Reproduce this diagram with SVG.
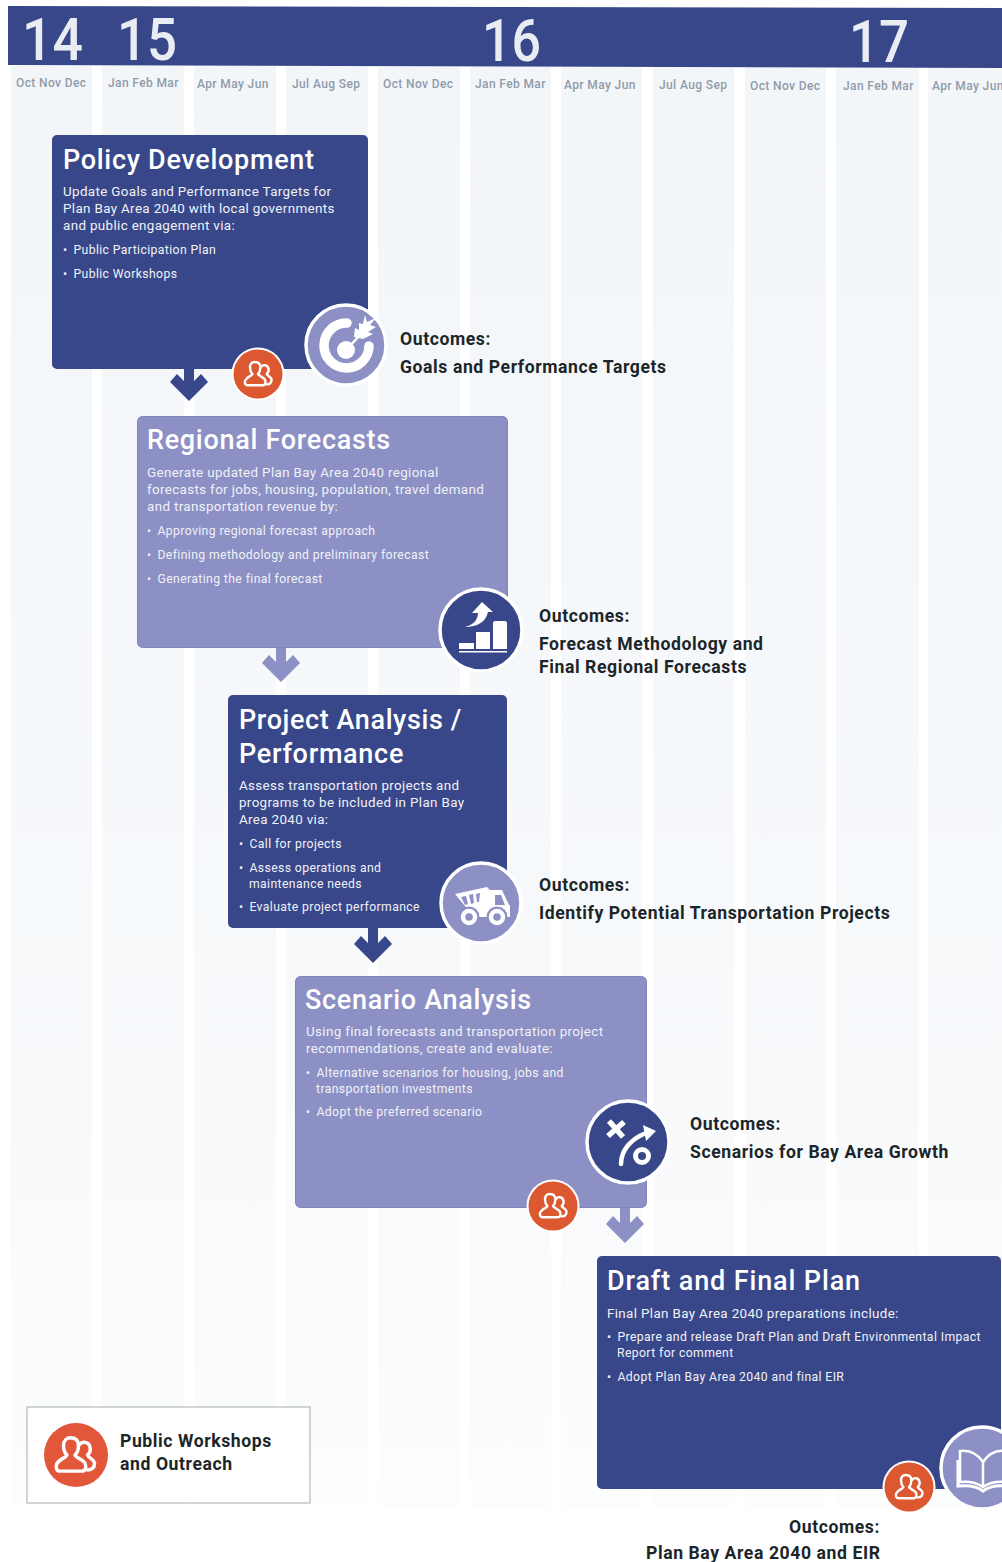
<svg xmlns="http://www.w3.org/2000/svg" width="1002" height="1562" viewBox="0 0 1002 1562">
<style>
text{font-family:"Roboto","Liberation Sans",sans-serif}
.yr{font-size:59px;font-weight:500;fill:#e9ecf2}
.mo{font-size:12px;fill:#8f9bab;letter-spacing:.38px;font-weight:500}
.strip{fill:url(#fade)}
.dark{fill:#384789}
.light{fill:#8c90c4}
.boxl{fill:#8c90c4;stroke:#7f84ba;stroke-width:1}
.title{font-size:27px;font-weight:500;fill:#fff;letter-spacing:.7px}
.body{font-size:13.4px;fill:#f1f2f8;letter-spacing:.35px}
.li{font-size:12.2px;fill:#f1f2f8;letter-spacing:.4px}
.out{font-size:17.6px;font-weight:700;fill:#1c2528;letter-spacing:.58px}
.ring{stroke:#fff;stroke-width:3.5}
.ic{fill:none;stroke:#fff}
.icf{fill:#fff}
</style>
<defs>
<linearGradient id="fade" gradientUnits="userSpaceOnUse" x1="0" y1="66" x2="0" y2="1507">
<stop offset="0" stop-color="#f3f6f9"/><stop offset=".7" stop-color="#f7f9fb"/><stop offset="1" stop-color="#fcfdfd"/>
</linearGradient>
<g id="people">
<path d="M-13 14 C-16 14 -17 11 -16 8 C-14 3 -8 3 -7 0 C-9 -2 -10 -5 -10 -8 C-10 -13 -7 -15 -4 -15 C0 -15 3 -13 3 -8 C3 -5 2 -2 0 0 C1 3 8 4 9 8 C10 11 9 14 6 14 Z" fill="none" stroke="#fff" stroke-width="3" stroke-linejoin="round"/>
<path d="M4 -9 C6 -12 12 -12 13 -7 C14 -4 13 -2 11 0 C12 3 16 3 17 7 C17 11 15 13 11 13" fill="none" stroke="#fff" stroke-width="3" stroke-linecap="round"/>
</g>
<g id="badge"><circle r="26.500" fill="#fff"/><circle r="24.500" fill="#dc5830"/><use href="#people" transform="scale(.8)"/></g>
<path id="arrD" d="M-5 0H5V16L12 9L19 17L0 36L-19 17L-12 9L-5 16Z"/>
</defs>
<rect width="1002" height="1562" fill="#fff"/>
<g id="columns">
<rect class="strip" x="11" y="66" width="81" height="1440"/>
<rect class="strip" x="102" y="66" width="82" height="1440"/>
<rect class="strip" x="194" y="66" width="82" height="1440"/>
<rect class="strip" x="286" y="66" width="82" height="1440"/>
<rect class="strip" x="378" y="67" width="82" height="1440"/>
<rect class="strip" x="470" y="67" width="81" height="1440"/>
<rect class="strip" x="561" y="67" width="81" height="1440"/>
<rect class="strip" x="653" y="67" width="81" height="1440"/>
<rect class="strip" x="745" y="67" width="81" height="1440"/>
<rect class="strip" x="836" y="67" width="83" height="1440"/>
<rect class="strip" x="928" y="67" width="74" height="1440"/>
</g>
<g id="timeline">
<path class="dark" d="M8 6L1002 8V68L8 65Z"/>
<text class="yr" x="22" y="60" textLength="61" lengthAdjust="spacingAndGlyphs">14</text>
<text class="yr" x="117" y="60" textLength="60" lengthAdjust="spacingAndGlyphs">15</text>
<text class="yr" x="482" y="61" textLength="59" lengthAdjust="spacingAndGlyphs">16</text>
<text class="yr" x="849" y="62" textLength="60" lengthAdjust="spacingAndGlyphs">17</text>
<text class="mo" x="16" y="87">Oct Nov Dec</text>
<text class="mo" x="108" y="87">Jan Feb Mar</text>
<text class="mo" x="197" y="88">Apr May Jun</text>
<text class="mo" x="292" y="88">Jul Aug Sep</text>
<text class="mo" x="383" y="88">Oct Nov Dec</text>
<text class="mo" x="475" y="88">Jan Feb Mar</text>
<text class="mo" x="564" y="89">Apr May Jun</text>
<text class="mo" x="659" y="89">Jul Aug Sep</text>
<text class="mo" x="750" y="90">Oct Nov Dec</text>
<text class="mo" x="843" y="90">Jan Feb Mar</text>
<text class="mo" x="932" y="90">Apr May Jun</text>
</g>
<g id="connectors">
<use href="#arrD" class="dark" x="189" y="365"/>
<use href="#arrD" class="light" x="281" y="646"/>
<use href="#arrD" class="dark" x="373" y="927"/>
<use href="#arrD" class="light" x="625" y="1207"/>
</g>
<g id="policy-development">
<rect class="dark" x="52" y="135" width="316" height="234" rx="5"/>
<text class="title" x="63" y="169">Policy Development</text>
<text class="body" x="63" y="196">Update Goals and Performance Targets for</text>
<text class="body" x="63" y="213">Plan Bay Area 2040 with local governments</text>
<text class="body" x="63" y="230">and public engagement via:</text>
<text class="li" x="63" y="254">•<tspan dx="2.5"> Public Participation Plan</tspan></text>
<text class="li" x="63" y="278">•<tspan dx="2.5"> Public Workshops</tspan></text>
<use href="#badge" x="258" y="374"/>
<g transform="translate(346 345)">
<circle class="light ring" r="40"/>
<circle r="30" fill="#a3a7d2" opacity="0"/>
<path class="ic" stroke-width="9.500" stroke-linecap="round" d="M1 -22A22.500 22.500 0 1 0 23 1"/>
<circle class="icf" cx="0" cy="5" r="9"/>
<path class="ic" stroke-width="2.500" d="M1 4L14 -10"/>
<path class="icf" d="M8 -8L9 -17L13 -15L13 -22L17 -21L19 -30L21 -23L30 -27L24 -20L30 -18L22 -13L27 -11L17 -6Z"/>
</g>
<text class="out" x="400" y="345">Outcomes:</text>
<text class="out" x="400" y="373">Goals and Performance Targets</text>
</g>
<g id="regional-forecasts">
<rect class="boxl" x="137.500" y="416.500" width="370" height="231" rx="5"/>
<text class="title" x="147" y="449">Regional Forecasts</text>
<text class="body" x="147" y="477">Generate updated Plan Bay Area 2040 regional</text>
<text class="body" x="147" y="494">forecasts for jobs, housing, population, travel demand</text>
<text class="body" x="147" y="511">and transportation revenue by:</text>
<text class="li" x="147" y="535">•<tspan dx="2.5"> Approving regional forecast approach</tspan></text>
<text class="li" x="147" y="559">•<tspan dx="2.5"> Defining methodology and preliminary forecast</tspan></text>
<text class="li" x="147" y="583">•<tspan dx="2.5"> Generating the final forecast</tspan></text>
<g transform="translate(481 630)">
<circle class="dark ring" r="41"/>
<path class="icf" d="M-22 13H-7V19H-22Z M-5 2H9V19H-5Z M12 -7Q12 -9 14 -9H24Q26 -9 26 -7V19H12Z"/>
<rect class="icf" x="-22" y="21" width="48" height="1.500"/>
<path class="icf" d="M-16 -3C-8 -5 -3 -10 -3 -17L-9 -17L1 -28L12 -18L7 -18C5 -8 -4 -3 -16 -3Z"/>
</g>
<text class="out" x="539" y="622">Outcomes:</text>
<text class="out" x="539" y="650">Forecast Methodology and</text>
<text class="out" x="539" y="673">Final Regional Forecasts</text>
</g>
<g id="project-analysis">
<rect class="dark" x="228" y="695" width="279" height="233" rx="5"/>
<text class="title" x="239" y="729" style="letter-spacing:.6px">Project Analysis /</text>
<text class="title" x="239" y="763">Performance</text>
<text class="body" x="239" y="790">Assess transportation projects and</text>
<text class="body" x="239" y="807">programs to be included in Plan Bay</text>
<text class="body" x="239" y="824">Area 2040 via:</text>
<text class="li" x="239" y="848">•<tspan dx="2.5"> Call for projects</tspan></text>
<text class="li" x="239" y="872">•<tspan dx="2.5"> Assess operations and</tspan></text>
<text class="li" x="249" y="888">maintenance needs</text>
<text class="li" x="239" y="911">•<tspan dx="2.5"> Evaluate project performance</tspan></text>
<g transform="translate(481 903)">
<circle class="light ring" r="40"/>
<path class="icf" d="M-26 -9L6 -16L9 -13L21 -13L27 0L29 3V14H-4L-12 8Z"/>
<path d="M-20 -6L-15 -7L-13 1L-16 2Z M-12 -8L-8 -9L-7 0L-10 1Z M-5 -9L-1 -10L-2 -1L-4 -1Z M14 -8H20L24 2H14Z" fill="#8c90c4"/>
<circle cx="-12" cy="14" r="10.500" fill="#8c90c4"/><circle cx="-12" cy="14" r="6" fill="none" stroke="#fff" stroke-width="4.500"/>
<circle cx="16" cy="14" r="10.500" fill="#8c90c4"/><circle cx="16" cy="14" r="6" fill="none" stroke="#fff" stroke-width="4.500"/>
</g>
<text class="out" x="539" y="891">Outcomes:</text>
<text class="out" x="539" y="919">Identify Potential Transportation Projects</text>
</g>
<g id="scenario-analysis">
<rect class="boxl" x="295.500" y="976.500" width="351" height="231" rx="5"/>
<text class="title" x="305" y="1009">Scenario Analysis</text>
<text class="body" x="306" y="1036">Using final forecasts and transportation project</text>
<text class="body" x="306" y="1053">recommendations, create and evaluate:</text>
<text class="li" x="306" y="1077">•<tspan dx="2.5"> Alternative scenarios for housing, jobs and</tspan></text>
<text class="li" x="316" y="1093">transportation investments</text>
<text class="li" x="306" y="1116">•<tspan dx="2.5"> Adopt the preferred scenario</tspan></text>
<use href="#badge" x="553" y="1206"/>
<g transform="translate(628 1142)">
<circle class="dark ring" r="41"/>
<path class="ic" stroke-width="5.500" d="M-19 -21L-5 -5M-4 -20L-20 -6"/>
<path class="ic" stroke-width="4.500" stroke-linecap="round" d="M-7 22C-7 8 3 -3 18 -9"/>
<path class="icf" d="M15 -17L28 -11L18 -1Z"/>
<circle class="ic" cx="14" cy="14" r="6.500" stroke-width="5"/>
</g>
<text class="out" x="690" y="1130">Outcomes:</text>
<text class="out" x="690" y="1158">Scenarios for Bay Area Growth</text>
</g>
<g id="draft-final-plan">
<rect class="dark" x="597" y="1256" width="404" height="233" rx="5"/>
<text class="title" x="607" y="1290" style="letter-spacing:.87px">Draft and Final Plan</text>
<text class="body" x="607" y="1318">Final Plan Bay Area 2040 preparations include:</text>
<text class="li" x="607" y="1341">•<tspan dx="2.5"> Prepare and release Draft Plan and Draft Environmental Impact</tspan></text>
<text class="li" x="617" y="1357">Report for comment</text>
<text class="li" x="607" y="1381">•<tspan dx="2.5"> Adopt Plan Bay Area 2040 and final EIR</tspan></text>
<use href="#badge" x="909" y="1487"/>
<g transform="translate(982 1468)">
<circle class="light ring" r="41"/>
<path class="ic" stroke-width="2.500" d="M1 -6C-5 -15 -14 -18 -22 -17V14C-13 13 -5 15 1 19C7 15 15 13 24 14V-17C15 -18 7 -15 1 -6V19"/>
<path class="ic" stroke-width="3" d="M-24 -8V18C-14 17 -5 18 1 23C7 18 16 17 26 18V-8"/>
</g>
<text class="out" x="789" y="1533">Outcomes:</text>
<text class="out" x="646" y="1559">Plan Bay Area 2040 and EIR</text>
</g>
<g id="legend">
<rect x="27" y="1407" width="283" height="96" fill="#fff" stroke="#a5a9ab" stroke-width="1"/>
<circle cx="76" cy="1455" r="32" fill="#e2573a"/>
<use href="#people" transform="translate(75 1455) scale(1.150)"/>
<text class="out" x="120" y="1447">Public Workshops</text>
<text class="out" x="120" y="1470">and Outreach</text>
</g>
</svg>
